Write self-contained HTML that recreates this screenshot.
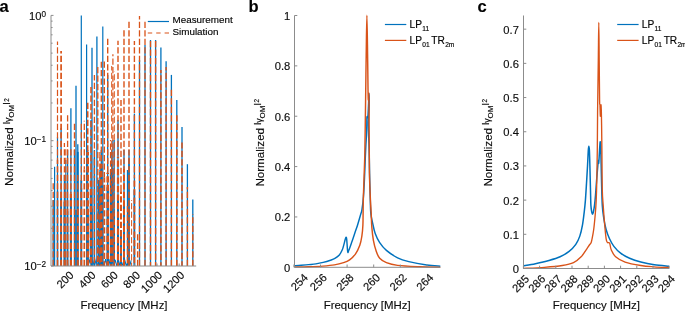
<!DOCTYPE html>
<html><head><meta charset="utf-8"><style>
html,body{margin:0;padding:0;background:#fff;}
body{width:685px;height:312px;overflow:hidden;}
svg{display:block;font-family:"Liberation Sans", sans-serif;}
text{-webkit-font-smoothing:antialiased;stroke:#0d0d0d;stroke-width:0.15px;}
body{will-change:transform;}
</style></head><body>
<svg width="685" height="312" viewBox="0 0 685 312">
<defs><clipPath id="ca"><rect x="51" y="0" width="146" height="266"/></clipPath></defs>
<g clip-path="url(#ca)">
<line x1="53.2" y1="266" x2="53.2" y2="200" stroke="#0072BD" stroke-width="1.3"/>
<line x1="54.6" y1="266" x2="54.6" y2="166.8" stroke="#0072BD" stroke-width="1.2"/>
<line x1="57.5" y1="266" x2="57.5" y2="137" stroke="#0072BD" stroke-width="1.2"/>
<line x1="57.5" y1="266" x2="57.5" y2="190.49" stroke="#0072BD" stroke-width="1.4"/>
<line x1="61.1" y1="266" x2="61.1" y2="128" stroke="#0072BD" stroke-width="1.3"/>
<line x1="61.1" y1="266" x2="61.1" y2="198.22" stroke="#0072BD" stroke-width="1.8"/>
<line x1="64.4" y1="266" x2="64.4" y2="175" stroke="#0072BD" stroke-width="1.3"/>
<line x1="64.4" y1="266" x2="64.4" y2="201.69" stroke="#0072BD" stroke-width="1.6"/>
<line x1="65.8" y1="266" x2="65.8" y2="160" stroke="#0072BD" stroke-width="1.1"/>
<line x1="67.6" y1="266" x2="67.6" y2="150" stroke="#0072BD" stroke-width="1.3"/>
<line x1="67.6" y1="266" x2="67.6" y2="211.26" stroke="#0072BD" stroke-width="1.4"/>
<line x1="70.9" y1="266" x2="70.9" y2="108.2" stroke="#0072BD" stroke-width="1.3"/>
<line x1="70.9" y1="266" x2="70.9" y2="198.09" stroke="#0072BD" stroke-width="2"/>
<line x1="74.5" y1="266" x2="74.5" y2="150" stroke="#0072BD" stroke-width="1.3"/>
<line x1="76" y1="266" x2="76" y2="85.8" stroke="#0072BD" stroke-width="1.3"/>
<line x1="76" y1="266" x2="76" y2="209.95" stroke="#0072BD" stroke-width="1.4"/>
<line x1="77.8" y1="266" x2="77.8" y2="144.2" stroke="#0072BD" stroke-width="1.3"/>
<line x1="77.8" y1="266" x2="77.8" y2="151.89" stroke="#0072BD" stroke-width="1.8"/>
<line x1="81.3" y1="266" x2="81.3" y2="15.4" stroke="#0072BD" stroke-width="1.2"/>
<line x1="81.3" y1="266" x2="81.3" y2="180.27" stroke="#0072BD" stroke-width="1.8"/>
<line x1="86.6" y1="266" x2="86.6" y2="44.6" stroke="#0072BD" stroke-width="1.2"/>
<line x1="87.7" y1="266" x2="87.7" y2="150" stroke="#0072BD" stroke-width="1.3"/>
<line x1="87.7" y1="266" x2="87.7" y2="211.32" stroke="#0072BD" stroke-width="2.4"/>
<line x1="91" y1="266" x2="91" y2="120" stroke="#0072BD" stroke-width="1.3"/>
<line x1="91" y1="266" x2="91" y2="192.18" stroke="#0072BD" stroke-width="2.3"/>
<line x1="92" y1="266" x2="92" y2="47.8" stroke="#0072BD" stroke-width="1.3"/>
<line x1="92" y1="266" x2="92" y2="208.56" stroke="#0072BD" stroke-width="1.3"/>
<line x1="94.4" y1="266" x2="94.4" y2="150" stroke="#0072BD" stroke-width="1.3"/>
<line x1="94.4" y1="266" x2="94.4" y2="157.36" stroke="#0072BD" stroke-width="1.3"/>
<line x1="96.9" y1="266" x2="96.9" y2="36.5" stroke="#0072BD" stroke-width="1.3"/>
<line x1="98.5" y1="266" x2="98.5" y2="180" stroke="#0072BD" stroke-width="1.2"/>
<line x1="99.9" y1="266" x2="99.9" y2="170" stroke="#0072BD" stroke-width="1.2"/>
<line x1="99.9" y1="266" x2="99.9" y2="180.49" stroke="#0072BD" stroke-width="1.3"/>
<line x1="101.3" y1="266" x2="101.3" y2="150" stroke="#0072BD" stroke-width="1.3"/>
<line x1="101.3" y1="266" x2="101.3" y2="166.03" stroke="#0072BD" stroke-width="2.4"/>
<line x1="102.8" y1="266" x2="102.8" y2="26.6" stroke="#0072BD" stroke-width="1.2"/>
<line x1="102.8" y1="266" x2="102.8" y2="185.34" stroke="#0072BD" stroke-width="1.3"/>
<line x1="107.7" y1="266" x2="107.7" y2="75" stroke="#0072BD" stroke-width="1.3"/>
<line x1="107.7" y1="266" x2="107.7" y2="187.31" stroke="#0072BD" stroke-width="2.4"/>
<line x1="110.6" y1="266" x2="110.6" y2="170" stroke="#0072BD" stroke-width="1.3"/>
<line x1="110.6" y1="266" x2="110.6" y2="170" stroke="#0072BD" stroke-width="1.3"/>
<line x1="111.7" y1="266" x2="111.7" y2="150" stroke="#0072BD" stroke-width="1.0"/>
<line x1="111.7" y1="266" x2="111.7" y2="164.09" stroke="#0072BD" stroke-width="1.3"/>
<line x1="112.9" y1="266" x2="112.9" y2="140" stroke="#0072BD" stroke-width="1.2"/>
<line x1="112.9" y1="266" x2="112.9" y2="168.17" stroke="#0072BD" stroke-width="1.3"/>
<line x1="114.3" y1="266" x2="114.3" y2="140" stroke="#0072BD" stroke-width="1.0"/>
<line x1="114.3" y1="266" x2="114.3" y2="209.56" stroke="#0072BD" stroke-width="1.3"/>
<line x1="118" y1="266" x2="118" y2="120" stroke="#0072BD" stroke-width="1.3"/>
<line x1="118" y1="266" x2="118" y2="199.77" stroke="#0072BD" stroke-width="2"/>
<line x1="121" y1="266" x2="121" y2="230" stroke="#0072BD" stroke-width="1.3"/>
<line x1="121" y1="266" x2="121" y2="230" stroke="#0072BD" stroke-width="1.8"/>
<line x1="124" y1="266" x2="124" y2="150" stroke="#0072BD" stroke-width="1.3"/>
<line x1="124" y1="266" x2="124" y2="201.81" stroke="#0072BD" stroke-width="1.8"/>
<line x1="127.5" y1="266" x2="127.5" y2="170" stroke="#0072BD" stroke-width="1.3"/>
<line x1="129" y1="266" x2="129" y2="150" stroke="#0072BD" stroke-width="1.3"/>
<line x1="129" y1="266" x2="129" y2="159.02" stroke="#0072BD" stroke-width="1.4"/>
<line x1="134.4" y1="266" x2="134.4" y2="113.6" stroke="#0072BD" stroke-width="1.3"/>
<line x1="134.4" y1="266" x2="134.4" y2="190.13" stroke="#0072BD" stroke-width="1.6"/>
<line x1="139.5" y1="266" x2="139.5" y2="60" stroke="#0072BD" stroke-width="1.3"/>
<line x1="145" y1="266" x2="145" y2="45" stroke="#0072BD" stroke-width="1.3"/>
<line x1="150.5" y1="266" x2="150.5" y2="40" stroke="#0072BD" stroke-width="1.3"/>
<line x1="155.6" y1="266" x2="155.6" y2="40" stroke="#0072BD" stroke-width="1.3"/>
<line x1="160.9" y1="266" x2="160.9" y2="47.5" stroke="#0072BD" stroke-width="1.3"/>
<line x1="166.1" y1="266" x2="166.1" y2="61.2" stroke="#0072BD" stroke-width="1.3"/>
<line x1="171.4" y1="266" x2="171.4" y2="74.9" stroke="#0072BD" stroke-width="1.3"/>
<line x1="176.8" y1="266" x2="176.8" y2="100" stroke="#0072BD" stroke-width="1.3"/>
<line x1="182" y1="266" x2="182" y2="127" stroke="#0072BD" stroke-width="1.3"/>
<line x1="187.4" y1="266" x2="187.4" y2="164.2" stroke="#0072BD" stroke-width="1.3"/>
<line x1="192.8" y1="266" x2="192.8" y2="199.6" stroke="#0072BD" stroke-width="1.3"/>
<polyline points="88,266.2 89.6,259.71 91.2,266.2 92.8,260.63 94.4,266.2 96,260.11 97.6,266.2 99.2,260.81 100.8,266.2 102.4,260.88 104,266.2 105.6,259.2 107.2,266.2 108.8,259.04 110.4,266.2 112,261.51 113.6,266.2 115.2,259.78 116.8,266.2 118.4,259.7 120,266.2 121.6,261.99 123.2,266.2 124.8,260.41 126.4,266.2 128,261.51 129.6,266.2 131.2,260.43" fill="none" stroke="#0072BD" stroke-width="1.1"/>
<line x1="53.2" y1="266" x2="53.2" y2="181.8" stroke="#D95319" stroke-width="1.3" stroke-dasharray="6.2 2.3" stroke-dashoffset="0"/>
<line x1="57.5" y1="159.79" x2="57.5" y2="41.6" stroke="#D95319" stroke-width="1.2" stroke-dasharray="6.2 2.3" stroke-dashoffset="4.21"/>
<line x1="57.5" y1="266" x2="57.5" y2="159.79" stroke="#D95319" stroke-width="1.6" stroke-dasharray="6.2 2.3" stroke-dashoffset="0"/>
<line x1="61.1" y1="191.27" x2="61.1" y2="50.9" stroke="#D95319" stroke-width="1.7" stroke-dasharray="6.2 2.3" stroke-dashoffset="6.73"/>
<line x1="61.1" y1="266" x2="61.1" y2="191.27" stroke="#D95319" stroke-width="2.0" stroke-dasharray="6.2 2.3" stroke-dashoffset="0"/>
<line x1="64.4" y1="206.42" x2="64.4" y2="142.9" stroke="#D95319" stroke-width="1.3" stroke-dasharray="6.2 2.3" stroke-dashoffset="0.08"/>
<line x1="64.4" y1="266" x2="64.4" y2="206.42" stroke="#D95319" stroke-width="1.8" stroke-dasharray="6.2 2.3" stroke-dashoffset="0"/>
<line x1="65.8" y1="266" x2="65.8" y2="147.4" stroke="#D95319" stroke-width="1.1" stroke-dasharray="6.2 2.3" stroke-dashoffset="0"/>
<line x1="67.6" y1="198.18" x2="67.6" y2="115.3" stroke="#D95319" stroke-width="1.3" stroke-dasharray="6.2 2.3" stroke-dashoffset="8.32"/>
<line x1="67.6" y1="266" x2="67.6" y2="198.18" stroke="#D95319" stroke-width="1.6" stroke-dasharray="6.2 2.3" stroke-dashoffset="0"/>
<line x1="70.9" y1="193.64" x2="70.9" y2="147" stroke="#D95319" stroke-width="1.4" stroke-dasharray="6.2 2.3" stroke-dashoffset="4.36"/>
<line x1="70.9" y1="266" x2="70.9" y2="193.64" stroke="#D95319" stroke-width="2.2" stroke-dasharray="6.2 2.3" stroke-dashoffset="0"/>
<line x1="74.5" y1="266" x2="74.5" y2="121.8" stroke="#D95319" stroke-width="1.4" stroke-dasharray="6.2 2.3" stroke-dashoffset="0"/>
<line x1="77.8" y1="199.28" x2="77.8" y2="175" stroke="#D95319" stroke-width="1.4" stroke-dasharray="6.2 2.3" stroke-dashoffset="7.22"/>
<line x1="77.8" y1="266" x2="77.8" y2="199.28" stroke="#D95319" stroke-width="2.0" stroke-dasharray="6.2 2.3" stroke-dashoffset="0"/>
<line x1="81.3" y1="188.42" x2="81.3" y2="122.3" stroke="#D95319" stroke-width="1.2" stroke-dasharray="6.2 2.3" stroke-dashoffset="1.08"/>
<line x1="81.3" y1="266" x2="81.3" y2="188.42" stroke="#D95319" stroke-width="2.0" stroke-dasharray="6.2 2.3" stroke-dashoffset="0"/>
<line x1="84.3" y1="169.58" x2="84.3" y2="120.7" stroke="#D95319" stroke-width="1.3" stroke-dasharray="6.2 2.3" stroke-dashoffset="2.92"/>
<line x1="84.3" y1="266" x2="84.3" y2="169.58" stroke="#D95319" stroke-width="1.7" stroke-dasharray="6.2 2.3" stroke-dashoffset="0"/>
<line x1="87.7" y1="152.02" x2="87.7" y2="100.5" stroke="#D95319" stroke-width="1.6" stroke-dasharray="6.2 2.3" stroke-dashoffset="7.98"/>
<line x1="87.7" y1="266" x2="87.7" y2="152.02" stroke="#D95319" stroke-width="2.6" stroke-dasharray="6.2 2.3" stroke-dashoffset="0"/>
<line x1="91" y1="180.73" x2="91" y2="85.2" stroke="#D95319" stroke-width="1.5" stroke-dasharray="6.2 2.3" stroke-dashoffset="6.07"/>
<line x1="91" y1="266" x2="91" y2="180.73" stroke="#D95319" stroke-width="2.5" stroke-dasharray="6.2 2.3" stroke-dashoffset="5.8"/>
<line x1="94.4" y1="175.67" x2="94.4" y2="74.9" stroke="#D95319" stroke-width="1.3" stroke-dasharray="6.2 2.3" stroke-dashoffset="6.73"/>
<line x1="94.4" y1="266" x2="94.4" y2="175.67" stroke="#D95319" stroke-width="1.4" stroke-dasharray="6.2 2.3" stroke-dashoffset="5.8"/>
<line x1="97.8" y1="212.67" x2="97.8" y2="65.3" stroke="#D95319" stroke-width="1.3" stroke-dasharray="6.2 2.3" stroke-dashoffset="5.13"/>
<line x1="97.8" y1="266" x2="97.8" y2="212.67" stroke="#D95319" stroke-width="2.1" stroke-dasharray="6.2 2.3" stroke-dashoffset="4.5"/>
<line x1="99.9" y1="156.33" x2="99.9" y2="150" stroke="#D95319" stroke-width="1.2" stroke-dasharray="6.2 2.3" stroke-dashoffset="10.47"/>
<line x1="99.9" y1="266" x2="99.9" y2="156.33" stroke="#D95319" stroke-width="1.4" stroke-dasharray="6.2 2.3" stroke-dashoffset="5.8"/>
<line x1="101.3" y1="164.1" x2="101.3" y2="61.8" stroke="#D95319" stroke-width="1.3" stroke-dasharray="6.2 2.3" stroke-dashoffset="14.2"/>
<line x1="101.3" y1="266" x2="101.3" y2="164.1" stroke="#D95319" stroke-width="2.6" stroke-dasharray="6.2 2.3" stroke-dashoffset="4.5"/>
<line x1="104.3" y1="177.37" x2="104.3" y2="60.7" stroke="#D95319" stroke-width="1.4" stroke-dasharray="6.2 2.3" stroke-dashoffset="9.43"/>
<line x1="104.3" y1="266" x2="104.3" y2="177.37" stroke="#D95319" stroke-width="1.8" stroke-dasharray="6.2 2.3" stroke-dashoffset="1.4"/>
<line x1="107.7" y1="172.81" x2="107.7" y2="38" stroke="#D95319" stroke-width="1.4" stroke-dasharray="6.2 2.3" stroke-dashoffset="8.19"/>
<line x1="107.7" y1="266" x2="107.7" y2="172.81" stroke="#D95319" stroke-width="2.6" stroke-dasharray="6.2 2.3" stroke-dashoffset="1.4"/>
<line x1="110.6" y1="176.49" x2="110.6" y2="140" stroke="#D95319" stroke-width="1.3" stroke-dasharray="6.2 2.3" stroke-dashoffset="7.31"/>
<line x1="110.6" y1="266" x2="110.6" y2="176.49" stroke="#D95319" stroke-width="1.4" stroke-dasharray="6.2 2.3" stroke-dashoffset="4.5"/>
<line x1="111.7" y1="194.33" x2="111.7" y2="66" stroke="#D95319" stroke-width="1.0" stroke-dasharray="6.2 2.3" stroke-dashoffset="3.67"/>
<line x1="111.7" y1="266" x2="111.7" y2="194.33" stroke="#D95319" stroke-width="1.3" stroke-dasharray="6.2 2.3" stroke-dashoffset="4.5"/>
<line x1="112.9" y1="214.41" x2="112.9" y2="54.2" stroke="#D95319" stroke-width="1.2" stroke-dasharray="6.2 2.3" stroke-dashoffset="3.39"/>
<line x1="112.9" y1="266" x2="112.9" y2="214.41" stroke="#D95319" stroke-width="1.4" stroke-dasharray="6.2 2.3" stroke-dashoffset="4.5"/>
<line x1="114.3" y1="212.7" x2="114.3" y2="71.6" stroke="#D95319" stroke-width="1.0" stroke-dasharray="6.2 2.3" stroke-dashoffset="3.7"/>
<line x1="114.3" y1="266" x2="114.3" y2="212.7" stroke="#D95319" stroke-width="1.4" stroke-dasharray="6.2 2.3" stroke-dashoffset="1.4"/>
<line x1="118" y1="156.76" x2="118" y2="40.8" stroke="#D95319" stroke-width="1.4" stroke-dasharray="6.2 2.3" stroke-dashoffset="7.24"/>
<line x1="118" y1="266" x2="118" y2="156.76" stroke="#D95319" stroke-width="2.2" stroke-dasharray="6.2 2.3" stroke-dashoffset="2.8"/>
<line x1="121" y1="191.14" x2="121" y2="100" stroke="#D95319" stroke-width="1.4" stroke-dasharray="6.2 2.3" stroke-dashoffset="8.26"/>
<line x1="121" y1="266" x2="121" y2="191.14" stroke="#D95319" stroke-width="2.0" stroke-dasharray="6.2 2.3" stroke-dashoffset="4.5"/>
<line x1="124" y1="168.52" x2="124" y2="29" stroke="#D95319" stroke-width="1.4" stroke-dasharray="6.2 2.3" stroke-dashoffset="3.98"/>
<line x1="124" y1="266" x2="124" y2="168.52" stroke="#D95319" stroke-width="2.0" stroke-dasharray="6.2 2.3" stroke-dashoffset="0"/>
<line x1="127.5" y1="266" x2="127.5" y2="205" stroke="#D95319" stroke-width="1.4" stroke-dasharray="6.2 2.3" stroke-dashoffset="5.8"/>
<line x1="129" y1="155.75" x2="129" y2="21.8" stroke="#D95319" stroke-width="1.4" stroke-dasharray="6.2 2.3" stroke-dashoffset="8.25"/>
<line x1="129" y1="266" x2="129" y2="155.75" stroke="#D95319" stroke-width="1.6" stroke-dasharray="6.2 2.3" stroke-dashoffset="0"/>
<line x1="131.6" y1="266" x2="131.6" y2="200" stroke="#D95319" stroke-width="1.0" stroke-dasharray="6.2 2.3" stroke-dashoffset="2.8"/>
<line x1="137.6" y1="266" x2="137.6" y2="232" stroke="#D95319" stroke-width="1.3" stroke-dasharray="6.2 2.3" stroke-dashoffset="0"/>
<line x1="134.4" y1="177.76" x2="134.4" y2="41" stroke="#D95319" stroke-width="1.4" stroke-dasharray="6.2 2.3" stroke-dashoffset="3.24"/>
<line x1="134.4" y1="266" x2="134.4" y2="177.76" stroke="#D95319" stroke-width="1.8" stroke-dasharray="6.2 2.3" stroke-dashoffset="5.8"/>
<line x1="139.5" y1="266" x2="139.5" y2="16" stroke="#D95319" stroke-width="1.3" stroke-dasharray="6.2 2.3" stroke-dashoffset="0"/>
<line x1="145" y1="266" x2="145" y2="20.9" stroke="#D95319" stroke-width="1.3" stroke-dasharray="6.2 2.3" stroke-dashoffset="0"/>
<line x1="150.5" y1="266" x2="150.5" y2="40" stroke="#D95319" stroke-width="1.4" stroke-dasharray="6.2 2.3" stroke-dashoffset="2.2"/>
<line x1="155.6" y1="266" x2="155.6" y2="40" stroke="#D95319" stroke-width="1.4" stroke-dasharray="6.2 2.3" stroke-dashoffset="2.2"/>
<line x1="160.9" y1="266" x2="160.9" y2="70" stroke="#D95319" stroke-width="1.5" stroke-dasharray="6.2 2.3" stroke-dashoffset="2.4"/>
<line x1="166.1" y1="266" x2="166.1" y2="67" stroke="#D95319" stroke-width="1.4" stroke-dasharray="6.2 2.3" stroke-dashoffset="0"/>
<line x1="171.4" y1="266" x2="171.4" y2="88.5" stroke="#D95319" stroke-width="1.4" stroke-dasharray="6.2 2.3" stroke-dashoffset="0"/>
<line x1="176.8" y1="266" x2="176.8" y2="113" stroke="#D95319" stroke-width="1.6" stroke-dasharray="6.2 2.3" stroke-dashoffset="0"/>
<line x1="182" y1="266" x2="182" y2="142.5" stroke="#D95319" stroke-width="1.5" stroke-dasharray="6.2 2.3" stroke-dashoffset="1.5"/>
<line x1="187.4" y1="266" x2="187.4" y2="187" stroke="#D95319" stroke-width="1.4" stroke-dasharray="6.2 2.3" stroke-dashoffset="0"/>
<line x1="192.8" y1="266" x2="192.8" y2="214.5" stroke="#D95319" stroke-width="1.4" stroke-dasharray="6.2 2.3" stroke-dashoffset="0"/>
</g>
<rect x="146.5" y="12" width="90" height="28" fill="#fff"/>
<line x1="147.8" y1="21.5" x2="169" y2="21.5" stroke="#0072BD" stroke-width="1.2"/>
<line x1="147.8" y1="33" x2="169" y2="33" stroke="#D95319" stroke-width="1.2" stroke-dasharray="4.4 4"/>
<text x="172.5" y="22.7" font-size="9.85" fill="#000">Measurement</text>
<text x="172.5" y="34.5" font-size="9.85" fill="#000">Simulation</text>
<line x1="51.0" y1="15.4" x2="51.0" y2="266.0" stroke="#8c8c8c" stroke-width="1"/>
<line x1="51.0" y1="266.0" x2="196.2" y2="266.0" stroke="#8c8c8c" stroke-width="1"/>
<line x1="51.0" y1="15.4" x2="53.5" y2="15.4" stroke="#8c8c8c" stroke-width="1"/>
<line x1="51.0" y1="140.7" x2="53.5" y2="140.7" stroke="#8c8c8c" stroke-width="1"/>
<line x1="51.0" y1="266" x2="53.5" y2="266" stroke="#8c8c8c" stroke-width="1"/>
<line x1="51.0" y1="102.98" x2="52.6" y2="102.98" stroke="#8c8c8c" stroke-width="1"/>
<line x1="51.0" y1="80.92" x2="52.6" y2="80.92" stroke="#8c8c8c" stroke-width="1"/>
<line x1="51.0" y1="65.26" x2="52.6" y2="65.26" stroke="#8c8c8c" stroke-width="1"/>
<line x1="51.0" y1="53.12" x2="52.6" y2="53.12" stroke="#8c8c8c" stroke-width="1"/>
<line x1="51.0" y1="43.2" x2="52.6" y2="43.2" stroke="#8c8c8c" stroke-width="1"/>
<line x1="51.0" y1="34.81" x2="52.6" y2="34.81" stroke="#8c8c8c" stroke-width="1"/>
<line x1="51.0" y1="27.54" x2="52.6" y2="27.54" stroke="#8c8c8c" stroke-width="1"/>
<line x1="51.0" y1="21.13" x2="52.6" y2="21.13" stroke="#8c8c8c" stroke-width="1"/>
<line x1="51.0" y1="228.28" x2="52.6" y2="228.28" stroke="#8c8c8c" stroke-width="1"/>
<line x1="51.0" y1="206.22" x2="52.6" y2="206.22" stroke="#8c8c8c" stroke-width="1"/>
<line x1="51.0" y1="190.56" x2="52.6" y2="190.56" stroke="#8c8c8c" stroke-width="1"/>
<line x1="51.0" y1="178.42" x2="52.6" y2="178.42" stroke="#8c8c8c" stroke-width="1"/>
<line x1="51.0" y1="168.5" x2="52.6" y2="168.5" stroke="#8c8c8c" stroke-width="1"/>
<line x1="51.0" y1="160.11" x2="52.6" y2="160.11" stroke="#8c8c8c" stroke-width="1"/>
<line x1="51.0" y1="152.84" x2="52.6" y2="152.84" stroke="#8c8c8c" stroke-width="1"/>
<line x1="51.0" y1="146.43" x2="52.6" y2="146.43" stroke="#8c8c8c" stroke-width="1"/>
<text x="46.0" y="19.8" font-size="11.2" text-anchor="end" fill="#0d0d0d">10<tspan font-size="8.2" dy="-3.3">0</tspan></text>
<text x="46.0" y="145.1" font-size="11.2" text-anchor="end" fill="#0d0d0d">10<tspan font-size="8.2" dy="-3.3">−1</tspan></text>
<text x="46.0" y="270.4" font-size="11.2" text-anchor="end" fill="#0d0d0d">10<tspan font-size="8.2" dy="-3.3">−2</tspan></text>
<line x1="68.36" y1="266.0" x2="68.36" y2="263.5" stroke="#8c8c8c" stroke-width="1"/>
<text transform="translate(74.36,275.8) rotate(-45)" font-size="11.2" text-anchor="end" fill="#0d0d0d">200</text>
<line x1="90.52" y1="266.0" x2="90.52" y2="263.5" stroke="#8c8c8c" stroke-width="1"/>
<text transform="translate(96.52,275.8) rotate(-45)" font-size="11.2" text-anchor="end" fill="#0d0d0d">400</text>
<line x1="112.68" y1="266.0" x2="112.68" y2="263.5" stroke="#8c8c8c" stroke-width="1"/>
<text transform="translate(118.68,275.8) rotate(-45)" font-size="11.2" text-anchor="end" fill="#0d0d0d">600</text>
<line x1="134.84" y1="266.0" x2="134.84" y2="263.5" stroke="#8c8c8c" stroke-width="1"/>
<text transform="translate(140.84,275.8) rotate(-45)" font-size="11.2" text-anchor="end" fill="#0d0d0d">800</text>
<line x1="157" y1="266.0" x2="157" y2="263.5" stroke="#8c8c8c" stroke-width="1"/>
<text transform="translate(163,275.8) rotate(-45)" font-size="11.2" text-anchor="end" fill="#0d0d0d">1000</text>
<line x1="179.16" y1="266.0" x2="179.16" y2="263.5" stroke="#8c8c8c" stroke-width="1"/>
<text transform="translate(185.16,275.8) rotate(-45)" font-size="11.2" text-anchor="end" fill="#0d0d0d">1200</text>
<text x="124" y="308.8" font-size="11.45" text-anchor="middle" fill="#0d0d0d">Frequency [MHz]</text>
<text transform="translate(12.8,185.9) rotate(-90)" font-size="11.6" fill="#0d0d0d">Normalized <tspan font-size="7.4" font-weight="bold" dy="-4.6">|</tspan><tspan font-size="9" dy="3.0" dx="0">γ</tspan><tspan font-size="8" dy="3.2" dx="-0.3">OM</tspan><tspan font-size="7.4" font-weight="bold" dy="-6.2" dx="0.4">|</tspan><tspan font-size="6.4" dy="0.3" dx="0.6">2</tspan></text>
<text x="-0.6" y="11.9" font-size="16.5" font-weight="bold" fill="#000">a</text>
<path d="M294.7,265.8 C295.8,265.72 298.98,265.5 301.3,265.3 C303.62,265.1 306.17,264.83 308.6,264.6 C311.03,264.37 313.47,264.27 315.9,263.9 C318.33,263.53 320.77,263.02 323.2,262.4 C325.63,261.78 328.55,260.87 330.5,260.2 C332.45,259.53 333.43,259.25 334.9,258.4 C336.37,257.55 338.08,256.5 339.3,255.1 C340.52,253.7 341.48,251.58 342.2,250 C342.92,248.42 343.1,247.35 343.6,245.6 C344.1,243.85 344.8,240.88 345.2,239.5 C345.6,238.12 345.75,237.32 346,237.3 C346.25,237.28 346.42,237 346.7,239.4 C346.98,241.8 347.35,249.88 347.7,251.7 C348.05,253.52 348.13,251.87 348.8,250.3 C349.47,248.73 350.73,245.07 351.7,242.3 C352.67,239.53 353.63,236.55 354.6,233.7 C355.57,230.85 356.52,228.32 357.5,225.2 C358.48,222.08 359.75,217.63 360.5,215 C361.25,212.37 361.5,212.57 362,209.4 C362.5,206.23 363.08,201.23 363.5,196 C363.92,190.77 364.2,184.33 364.5,178 C364.8,171.67 365.07,163.5 365.3,158 C365.53,152.5 365.7,148.83 365.9,145 C366.1,141.17 366.35,138.33 366.5,135 C366.65,131.67 366.73,127.92 366.8,125 C366.87,122.08 366.8,118.92 366.9,117.5 C367,116.08 367.23,116.58 367.4,116.5 C367.57,116.42 367.72,118.92 367.9,117 C368.08,115.08 368.32,108.92 368.5,105 C368.68,101.08 368.88,93.5 369,93.5 C369.12,93.5 369.27,101 369.2,105 C369.13,109 368.73,114.17 368.6,117.5 C368.47,120.83 368.4,122.08 368.4,125 C368.4,127.92 368.5,131.67 368.6,135 C368.7,138.33 368.88,141.17 369,145 C369.12,148.83 369.18,152.5 369.3,158 C369.42,163.5 369.53,171 369.7,178 C369.87,185 370.12,194.1 370.3,200 C370.48,205.9 370.43,209.67 370.8,213.4 C371.17,217.13 371.77,219.03 372.5,222.4 C373.23,225.77 374,230.23 375.2,233.6 C376.4,236.97 377.83,239.8 379.7,242.6 C381.57,245.4 383.42,247.87 386.4,250.4 C389.38,252.93 393.87,255.93 397.6,257.8 C401.33,259.67 403.95,260.4 408.8,261.6 C413.65,262.8 421.45,264.23 426.7,265 C431.95,265.77 438.03,266 440.3,266.2" fill="none" stroke="#0072BD" stroke-width="1.45" stroke-linejoin="round"/>
<path d="M294.7,267.1 C296.98,267.05 303.7,266.97 308.4,266.8 C313.1,266.63 318.57,266.42 322.9,266.1 C327.23,265.78 330.95,265.48 334.4,264.9 C337.85,264.32 341.07,263.45 343.6,262.6 C346.13,261.75 347.63,261.22 349.6,259.8 C351.57,258.38 353.7,256.53 355.4,254.1 C357.1,251.67 358.73,248.13 359.8,245.2 C360.87,242.27 361.28,239.87 361.8,236.5 C362.32,233.13 362.65,231.08 362.9,225 C363.15,218.92 363.1,208.17 363.3,200 C363.5,191.83 363.85,183.5 364.1,176 C364.35,168.5 364.62,162.67 364.8,155 C364.98,147.33 365.07,139.17 365.2,130 C365.33,120.83 365.43,112.5 365.6,100 C365.77,87.5 365.98,69.12 366.2,55 C366.42,40.88 366.67,15.3 366.9,15.3 C367.13,15.3 367.42,42.88 367.6,55 C367.78,67.12 367.88,80.5 368,88 C368.12,95.5 368.18,99.17 368.3,100 C368.42,100.83 368.58,92.17 368.7,93 C368.82,93.83 368.93,99.67 369,105 C369.07,110.33 369.05,116.67 369.1,125 C369.15,133.33 369.23,146.5 369.3,155 C369.37,163.5 369.35,169.33 369.5,176 C369.65,182.67 370,190.17 370.2,195 C370.4,199.83 370.53,201.93 370.7,205 C370.87,208.07 371.02,209.75 371.2,213.4 C371.38,217.05 371.43,222.42 371.8,226.9 C372.17,231.38 372.65,236.2 373.4,240.3 C374.15,244.4 375.25,248.5 376.3,251.5 C377.35,254.5 378.02,256.43 379.7,258.3 C381.38,260.17 383.42,261.52 386.4,262.7 C389.38,263.88 392,264.72 397.6,265.4 C403.2,266.08 412.88,266.47 420,266.8 C427.12,267.13 436.92,267.3 440.3,267.4" fill="none" stroke="#D95319" stroke-width="1.45" stroke-linejoin="round"/>
<line x1="294.5" y1="15.5" x2="294.5" y2="267.3" stroke="#8c8c8c" stroke-width="1"/>
<line x1="294.5" y1="267.3" x2="297.3" y2="267.3" stroke="#8c8c8c" stroke-width="1"/>
<text x="290.3" y="271.7" font-size="11.2" text-anchor="end" fill="#0d0d0d">0</text>
<line x1="294.5" y1="216.94" x2="297.3" y2="216.94" stroke="#8c8c8c" stroke-width="1"/>
<text x="290.3" y="221.34" font-size="11.2" text-anchor="end" fill="#0d0d0d">0.2</text>
<line x1="294.5" y1="166.58" x2="297.3" y2="166.58" stroke="#8c8c8c" stroke-width="1"/>
<text x="290.3" y="170.98" font-size="11.2" text-anchor="end" fill="#0d0d0d">0.4</text>
<line x1="294.5" y1="116.22" x2="297.3" y2="116.22" stroke="#8c8c8c" stroke-width="1"/>
<text x="290.3" y="120.62" font-size="11.2" text-anchor="end" fill="#0d0d0d">0.6</text>
<line x1="294.5" y1="65.86" x2="297.3" y2="65.86" stroke="#8c8c8c" stroke-width="1"/>
<text x="290.3" y="70.26" font-size="11.2" text-anchor="end" fill="#0d0d0d">0.8</text>
<line x1="294.5" y1="15.5" x2="297.3" y2="15.5" stroke="#8c8c8c" stroke-width="1"/>
<text x="290.3" y="19.9" font-size="11.2" text-anchor="end" fill="#0d0d0d">1</text>
<line x1="294.5" y1="267.3" x2="440.3" y2="267.3" stroke="#8c8c8c" stroke-width="1"/>
<line x1="293.9" y1="267.3" x2="293.9" y2="264.5" stroke="#8c8c8c" stroke-width="1"/>
<text transform="translate(308.6,278.3) rotate(-45)" font-size="11.2" text-anchor="end" fill="#0d0d0d">254</text>
<line x1="320.5" y1="267.3" x2="320.5" y2="264.5" stroke="#8c8c8c" stroke-width="1"/>
<text transform="translate(327.7,278.3) rotate(-45)" font-size="11.2" text-anchor="end" fill="#0d0d0d">256</text>
<line x1="347.1" y1="267.3" x2="347.1" y2="264.5" stroke="#8c8c8c" stroke-width="1"/>
<text transform="translate(354.3,278.3) rotate(-45)" font-size="11.2" text-anchor="end" fill="#0d0d0d">258</text>
<line x1="373.7" y1="267.3" x2="373.7" y2="264.5" stroke="#8c8c8c" stroke-width="1"/>
<text transform="translate(380.9,278.3) rotate(-45)" font-size="11.2" text-anchor="end" fill="#0d0d0d">260</text>
<line x1="400.3" y1="267.3" x2="400.3" y2="264.5" stroke="#8c8c8c" stroke-width="1"/>
<text transform="translate(407.5,278.3) rotate(-45)" font-size="11.2" text-anchor="end" fill="#0d0d0d">262</text>
<line x1="426.9" y1="267.3" x2="426.9" y2="264.5" stroke="#8c8c8c" stroke-width="1"/>
<text transform="translate(434.1,278.3) rotate(-45)" font-size="11.2" text-anchor="end" fill="#0d0d0d">264</text>
<text x="367.2" y="309" font-size="11.45" text-anchor="middle" fill="#0d0d0d">Frequency [MHz]</text>
<text transform="translate(263.5,186.6) rotate(-90)" font-size="11.6" fill="#0d0d0d">Normalized <tspan font-size="7.4" font-weight="bold" dy="-4.6">|</tspan><tspan font-size="9" dy="3.0" dx="0">γ</tspan><tspan font-size="8" dy="3.2" dx="-0.3">OM</tspan><tspan font-size="7.4" font-weight="bold" dy="-6.2" dx="0.4">|</tspan><tspan font-size="6.4" dy="0.3" dx="0.6">2</tspan></text>
<text x="248.6" y="11.8" font-size="16.5" font-weight="bold" fill="#000">b</text>
<line x1="384.9" y1="24.5" x2="406.3" y2="24.5" stroke="#0072BD" stroke-width="1.2"/>
<line x1="384.9" y1="40.4" x2="406.3" y2="40.4" stroke="#D95319" stroke-width="1.2"/>
<text x="409.5" y="27.9" font-size="10.2" fill="#000">LP<tspan font-size="6.6" dy="3.3" dx="0.3">11</tspan></text>
<text x="409.5" y="43.8" font-size="10.2" fill="#000">LP<tspan font-size="6.6" dy="3.3" dx="0.3">01</tspan><tspan dy="-3.3" dx="-0.9"> TR</tspan><tspan font-size="6.6" dy="3.3" dx="0.2">2m</tspan></text>
<path d="M523.1,265.99 C525.15,265.61 531.1,264.61 535.4,263.69 C539.7,262.77 544.78,261.64 548.9,260.48 C553.02,259.33 556.73,258.3 560.1,256.78 C563.47,255.26 566.48,253.44 569.1,251.37 C571.72,249.29 574.02,246.89 575.8,244.35 C577.58,241.81 578.68,239.39 579.8,236.13 C580.92,232.88 581.75,228.94 582.5,224.81 C583.25,220.69 583.82,215.46 584.3,211.38 C584.78,207.31 585.03,205.04 585.4,200.36 C585.77,195.69 586.15,189.01 586.5,183.33 C586.85,177.65 587.2,171.8 587.5,166.29 C587.8,160.78 588.08,153.6 588.3,150.26 C588.52,146.92 588.62,146.25 588.8,146.25 C588.98,146.25 589.2,146.25 589.4,150.26 C589.6,154.27 589.82,163.62 590,170.3 C590.18,176.98 590.35,184.5 590.5,190.34 C590.65,196.19 590.68,201.7 590.9,205.37 C591.12,209.05 591.53,210.92 591.8,212.39 C592.07,213.86 592.25,214.19 592.5,214.19 C592.75,214.19 592.97,213.86 593.3,212.39 C593.63,210.92 594.13,208.21 594.5,205.37 C594.87,202.53 595.15,199.53 595.5,195.35 C595.85,191.18 596.25,184.83 596.6,180.32 C596.95,175.81 597.32,171.64 597.6,168.3 C597.88,164.96 598.12,161.12 598.3,160.28 C598.48,159.45 598.55,163.95 598.7,163.29 C598.85,162.62 599.02,159.11 599.2,156.27 C599.38,153.43 599.62,148.67 599.8,146.25 C599.98,143.83 600.13,141.07 600.3,141.74 C600.47,142.41 600.6,143.83 600.8,150.26 C601,156.69 601.25,171.14 601.5,180.32 C601.75,189.51 601.92,199.04 602.3,205.37 C602.68,211.7 603.17,214.27 603.8,218.3 C604.43,222.32 605.17,226.15 606.1,229.52 C607.03,232.89 608.1,235.73 609.4,238.54 C610.7,241.34 612.03,243.92 613.9,246.36 C615.77,248.79 617.98,251.18 620.6,253.17 C623.22,255.16 626.23,256.79 629.6,258.28 C632.97,259.77 636.68,261 640.8,262.09 C644.92,263.17 649.6,264.11 654.3,264.79 C659,265.48 666.55,265.96 669,266.2" fill="none" stroke="#0072BD" stroke-width="1.5" stroke-linejoin="round"/>
<path d="M523.1,268.4 C526.65,268.22 537.87,267.78 544.4,267.3 C550.93,266.81 557.45,266.28 562.3,265.49 C567.15,264.71 570.32,264.09 573.5,262.59 C576.68,261.08 579.15,258.8 581.4,256.48 C583.65,254.15 585.7,250.53 587,248.66 C588.3,246.79 588.65,246.05 589.2,245.25 C589.75,244.45 589.98,244.28 590.3,243.85 C590.62,243.42 590.83,243.35 591.1,242.65 C591.37,241.95 591.47,241.83 591.9,239.64 C592.33,237.45 593.13,233.83 593.7,229.52 C594.27,225.21 594.88,218.65 595.3,213.79 C595.72,208.93 595.95,205.94 596.2,200.36 C596.45,194.78 596.62,188.67 596.8,180.32 C596.98,171.97 597.17,161.95 597.3,150.26 C597.43,138.57 597.43,125.21 597.6,110.18 C597.77,95.15 598.1,74.72 598.3,60.08 C598.5,45.43 598.65,22.3 598.8,22.3 C598.95,22.3 599.07,47.1 599.2,60.08 C599.33,73.05 599.47,92.48 599.6,100.16 C599.73,107.84 599.87,103.5 600,106.17 C600.13,108.84 600.25,116.39 600.4,116.19 C600.55,115.99 600.75,105.97 600.9,104.97 C601.05,103.97 601.18,106.81 601.3,110.18 C601.42,113.55 601.5,118.53 601.6,125.21 C601.7,131.89 601.78,139.4 601.9,150.26 C602.02,161.12 602.08,181.16 602.3,190.34 C602.52,199.53 602.83,199.96 603.2,205.37 C603.57,210.78 604.02,217.28 604.5,222.81 C604.98,228.34 605.62,235.27 606.1,238.54 C606.58,241.81 606.92,241.76 607.4,242.45 C607.88,243.13 608.58,242.4 609,242.65 C609.42,242.9 609.52,242.71 609.9,243.95 C610.28,245.19 610.35,247.94 611.3,250.06 C612.25,252.18 613.3,254.67 615.6,256.68 C617.9,258.68 620.9,260.62 625.1,262.09 C629.3,263.56 635.98,264.71 640.8,265.49 C645.62,266.28 649.3,266.46 654,266.8 C658.7,267.13 666.5,267.38 669,267.5" fill="none" stroke="#D95319" stroke-width="1.35" stroke-linejoin="round"/>
<line x1="523.5" y1="15.49" x2="523.5" y2="268.5" stroke="#8c8c8c" stroke-width="1"/>
<line x1="523.5" y1="268.5" x2="526.3" y2="268.5" stroke="#8c8c8c" stroke-width="1"/>
<text x="518.9" y="272.9" font-size="11.2" text-anchor="end" fill="#0d0d0d">0</text>
<line x1="523.5" y1="234.31" x2="526.3" y2="234.31" stroke="#8c8c8c" stroke-width="1"/>
<text x="518.9" y="238.71" font-size="11.2" text-anchor="end" fill="#0d0d0d">0.1</text>
<line x1="523.5" y1="200.12" x2="526.3" y2="200.12" stroke="#8c8c8c" stroke-width="1"/>
<text x="518.9" y="204.52" font-size="11.2" text-anchor="end" fill="#0d0d0d">0.2</text>
<line x1="523.5" y1="165.93" x2="526.3" y2="165.93" stroke="#8c8c8c" stroke-width="1"/>
<text x="518.9" y="170.33" font-size="11.2" text-anchor="end" fill="#0d0d0d">0.3</text>
<line x1="523.5" y1="131.74" x2="526.3" y2="131.74" stroke="#8c8c8c" stroke-width="1"/>
<text x="518.9" y="136.14" font-size="11.2" text-anchor="end" fill="#0d0d0d">0.4</text>
<line x1="523.5" y1="97.55" x2="526.3" y2="97.55" stroke="#8c8c8c" stroke-width="1"/>
<text x="518.9" y="101.95" font-size="11.2" text-anchor="end" fill="#0d0d0d">0.5</text>
<line x1="523.5" y1="63.36" x2="526.3" y2="63.36" stroke="#8c8c8c" stroke-width="1"/>
<text x="518.9" y="67.76" font-size="11.2" text-anchor="end" fill="#0d0d0d">0.6</text>
<line x1="523.5" y1="29.17" x2="526.3" y2="29.17" stroke="#8c8c8c" stroke-width="1"/>
<text x="518.9" y="33.57" font-size="11.2" text-anchor="end" fill="#0d0d0d">0.7</text>
<line x1="523.5" y1="268.5" x2="669.2" y2="268.5" stroke="#8c8c8c" stroke-width="1"/>
<line x1="523.4" y1="268.5" x2="523.4" y2="265.7" stroke="#8c8c8c" stroke-width="1"/>
<text transform="translate(529.9,279.7) rotate(-45)" font-size="11.2" text-anchor="end" fill="#0d0d0d">285</text>
<line x1="539.6" y1="268.5" x2="539.6" y2="265.7" stroke="#8c8c8c" stroke-width="1"/>
<text transform="translate(546.1,279.7) rotate(-45)" font-size="11.2" text-anchor="end" fill="#0d0d0d">286</text>
<line x1="555.8" y1="268.5" x2="555.8" y2="265.7" stroke="#8c8c8c" stroke-width="1"/>
<text transform="translate(562.3,279.7) rotate(-45)" font-size="11.2" text-anchor="end" fill="#0d0d0d">287</text>
<line x1="572" y1="268.5" x2="572" y2="265.7" stroke="#8c8c8c" stroke-width="1"/>
<text transform="translate(578.5,279.7) rotate(-45)" font-size="11.2" text-anchor="end" fill="#0d0d0d">288</text>
<line x1="588.2" y1="268.5" x2="588.2" y2="265.7" stroke="#8c8c8c" stroke-width="1"/>
<text transform="translate(594.7,279.7) rotate(-45)" font-size="11.2" text-anchor="end" fill="#0d0d0d">289</text>
<line x1="604.4" y1="268.5" x2="604.4" y2="265.7" stroke="#8c8c8c" stroke-width="1"/>
<text transform="translate(610.9,279.7) rotate(-45)" font-size="11.2" text-anchor="end" fill="#0d0d0d">290</text>
<line x1="620.6" y1="268.5" x2="620.6" y2="265.7" stroke="#8c8c8c" stroke-width="1"/>
<text transform="translate(627.1,279.7) rotate(-45)" font-size="11.2" text-anchor="end" fill="#0d0d0d">291</text>
<line x1="636.8" y1="268.5" x2="636.8" y2="265.7" stroke="#8c8c8c" stroke-width="1"/>
<text transform="translate(643.3,279.7) rotate(-45)" font-size="11.2" text-anchor="end" fill="#0d0d0d">292</text>
<line x1="653" y1="268.5" x2="653" y2="265.7" stroke="#8c8c8c" stroke-width="1"/>
<text transform="translate(659.5,279.7) rotate(-45)" font-size="11.2" text-anchor="end" fill="#0d0d0d">293</text>
<line x1="669.2" y1="268.5" x2="669.2" y2="265.7" stroke="#8c8c8c" stroke-width="1"/>
<text transform="translate(675.7,279.7) rotate(-45)" font-size="11.2" text-anchor="end" fill="#0d0d0d">294</text>
<text x="596.3" y="309" font-size="11.45" text-anchor="middle" fill="#0d0d0d">Frequency [MHz]</text>
<text transform="translate(491.6,186.6) rotate(-90)" font-size="11.6" fill="#0d0d0d">Normalized <tspan font-size="7.4" font-weight="bold" dy="-4.6">|</tspan><tspan font-size="9" dy="3.0" dx="0">γ</tspan><tspan font-size="8" dy="3.2" dx="-0.3">OM</tspan><tspan font-size="7.4" font-weight="bold" dy="-6.2" dx="0.4">|</tspan><tspan font-size="6.4" dy="0.3" dx="0.6">2</tspan></text>
<text x="477.6" y="12.0" font-size="16.5" font-weight="bold" fill="#000">c</text>
<line x1="617.2" y1="24.5" x2="638.6" y2="24.5" stroke="#0072BD" stroke-width="1.2"/>
<line x1="617.2" y1="40.4" x2="638.6" y2="40.4" stroke="#D95319" stroke-width="1.2"/>
<text x="641.8" y="27.9" font-size="10.2" fill="#000">LP<tspan font-size="6.6" dy="3.3" dx="0.3">11</tspan></text>
<text x="641.8" y="43.8" font-size="10.2" fill="#000">LP<tspan font-size="6.6" dy="3.3" dx="0.3">01</tspan><tspan dy="-3.3" dx="-0.9"> TR</tspan><tspan font-size="6.6" dy="3.3" dx="0.2">2m</tspan></text>
</svg>
</body></html>
